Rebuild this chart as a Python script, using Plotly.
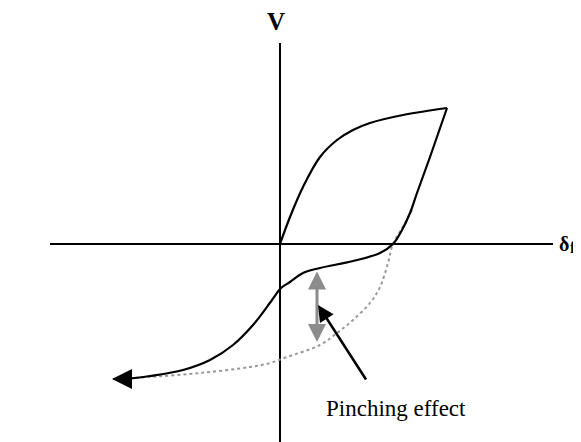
import plotly.graph_objects as go

# Data in chart units: origin at the axes crossing, y upward
upper_x = [0, 10, 23, 40, 57, 73, 90, 123, 167]
upper_y = [0, 27, 57, 87, 104, 114, 121, 129, 136]

unload_x = [167, 150, 137, 130, 122, 113, 100, 73, 40, 23, 10, 1, -8, -27, -47, -70, -97, -130, -155]
unload_y = [136, 87, 51, 31, 14, 0, -9, -17, -24, -29, -38, -44, -56, -81, -101, -116, -126, -132, -135]

nopinch_x = [132, 124, 113, 108, 100, 90, 73, 57, 40, 7, -10, -30, -80, -130, -167]
nopinch_y = [34, 19, 0, -19, -43, -59, -76, -89, -101, -113, -119, -123, -129, -133, -135]

axis_h_x = [-230, 273]
axis_v_y = [201, -200]

pinch_x = 37
pinch_y = [-26, -98]
pointer_tail = (87, -137)
pointer_tip = (38, -61)
end_tip = (-168, -135)
end_from = (-150, -135)

fig = go.Figure()
fig.add_trace(go.Scatter(x=axis_h_x, y=[0, 0], mode="lines",
                         line=dict(color="black", width=2), hoverinfo="skip"))
fig.add_trace(go.Scatter(x=[0, 0], y=axis_v_y, mode="lines",
                         line=dict(color="black", width=2), hoverinfo="skip"))
fig.add_trace(go.Scatter(x=nopinch_x, y=nopinch_y, mode="lines",
                         line=dict(color="#999999", width=2, dash="dot", shape="spline"),
                         hoverinfo="skip"))
fig.add_trace(go.Scatter(x=upper_x, y=upper_y, mode="lines",
                         line=dict(color="black", width=2.2, shape="spline"), hoverinfo="skip"))
fig.add_trace(go.Scatter(x=unload_x, y=unload_y, mode="lines",
                         line=dict(color="black", width=2.2, shape="spline"), hoverinfo="skip"))

# gray double arrow
fig.add_annotation(x=pinch_x, y=pinch_y[1], ax=pinch_x, ay=pinch_y[0],
                   xref="x", yref="y", axref="x", ayref="y", text="",
                   showarrow=True, arrowhead=2, startarrowhead=2, arrowside="end+start",
                   arrowsize=1.2, startarrowsize=1.2, arrowwidth=3, arrowcolor="#8c8c8c")
# pointer arrow
fig.add_annotation(x=pointer_tip[0], y=pointer_tip[1], ax=pointer_tail[0], ay=pointer_tail[1],
                   xref="x", yref="y", axref="x", ayref="y", text="",
                   showarrow=True, arrowhead=2, arrowsize=1.3, arrowwidth=2.5, arrowcolor="black")
# end arrowhead on the curve
fig.add_annotation(x=end_tip[0], y=end_tip[1], ax=end_from[0], ay=end_from[1],
                   xref="x", yref="y", axref="x", ayref="y", text="",
                   showarrow=True, arrowhead=2, arrowsize=1.6, arrowwidth=2.5, arrowcolor="black")

serif = "Liberation Serif, Times New Roman, serif"
fig.add_annotation(x=-4, y=223, xref="x", yref="y", text="<b>V</b>", showarrow=False,
                   font=dict(family=serif, size=25, color="black"))
fig.add_annotation(x=279, y=0, xref="x", yref="y", text="<b>δ</b>", showarrow=False,
                   xanchor="left", xshift=-2, font=dict(family=serif, size=20, color="black"))
fig.add_annotation(x=290, y=-3, xref="x", yref="y", text="<b>f</b>", showarrow=False,
                   xanchor="left", xshift=-2, font=dict(family=serif, size=16, color="black"))
fig.add_annotation(x=116, y=-164, xref="x", yref="y", text="Pinching effect", showarrow=False,
                   font=dict(family=serif, size=23, color="black"))

# page body has an 8px margin; size the figure to fill the rest of the window
fig.update_layout(width=573, height=434, margin=dict(l=0, r=0, t=0, b=0),
                  paper_bgcolor="white", plot_bgcolor="white", showlegend=False,
                  xaxis=dict(range=[-272, 301], visible=False, fixedrange=True),
                  yaxis=dict(range=[-198, 236], visible=False, fixedrange=True))
fig.write_html("out.html")
